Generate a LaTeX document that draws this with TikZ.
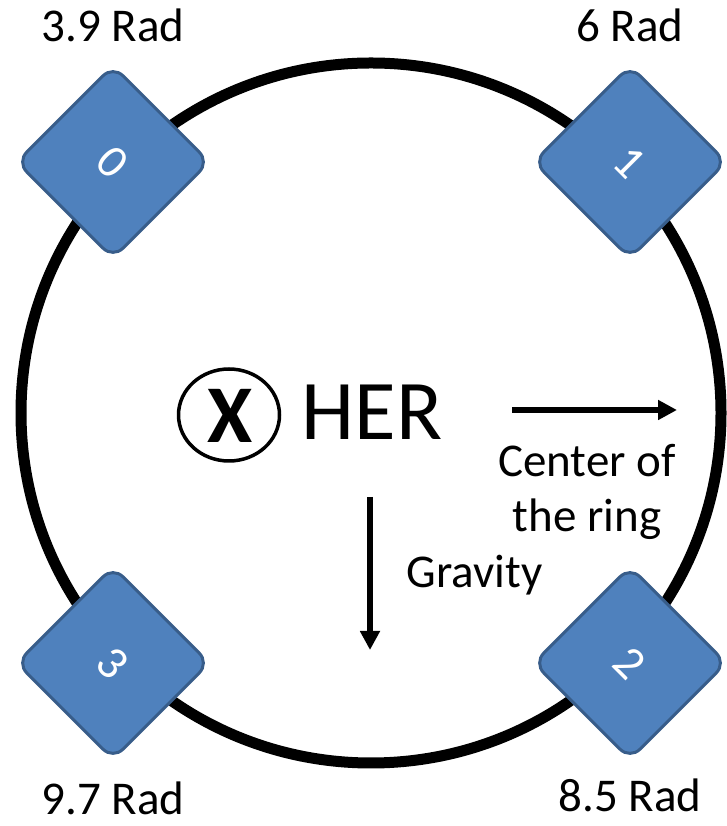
\documentclass[tikz,border=0pt]{standalone}
\usepackage{fontspec}
\setmainfont{Carlito}
\definecolor{chip}{HTML}{4F81BD}
\definecolor{chipedge}{HTML}{385D8A}
\usetikzlibrary{arrows.meta, positioning, shapes.geometric}

\tikzset{
  chipbox/.style={draw=chipedge, fill=chip, line width=3pt, rounded corners=14pt,
    minimum size=136pt, rotate=-45, text=white, font=\fontsize{47}{56}\selectfont},
  radlabel/.style={anchor=base, font=\fontsize{47}{56}\selectfont},
  bigarrow/.style={line width=6pt, -{Triangle[length=19pt,width=19pt]}}
}

\begin{document}
\begin{tikzpicture}[x=1pt, y=1pt]
  \useasboundingbox (0,0) rectangle (727,826);
  % ring
  \draw[line width=11pt] (371,413) circle[radius=350];
  % detectors
  \node[chipbox] (d0) at (113,664) {0};
  \node[chipbox] (d1) at (630,664) {1};
  \node[chipbox] (d2) at (630,163) {2};
  \node[chipbox] (d3) at (113,163) {3};
  \node[radlabel] (r0) at (113,784) {3.9 Rad};
  \node[radlabel] (r1) at (630,784) {6 Rad};
  \node[radlabel] (r2) at (630,14) {8.5 Rad};
  \node[radlabel] (r3) at (113,11) {9.7 Rad};
  % beam
  \node[draw, line width=3.5pt, ellipse, minimum width=101pt, minimum height=92pt, inner sep=0pt] (xo) at (229,411) {};
  \node[anchor=base, font=\fontsize{82}{90}\selectfont\bfseries] (xx) at (230,383) {X};
  \node[anchor=base, font=\fontsize{85}{95}\selectfont] (her) at (372,386) {HER};
  % directions
  \coordinate (c1) at (512,416);
  \coordinate (c2) at (677,416);
  \draw[bigarrow] (c1) -- (c2);
  \node[align=center, font=\fontsize{47}{55}\selectfont] (ctr) at (587,334) {Center of\\the ring};
  \coordinate (g1) at (370,329);
  \coordinate (g2) at (370,176);
  \draw[bigarrow] (g1) -- (g2);
  \node[anchor=base west, font=\fontsize{47}{56}\selectfont] (grav) at (403,238) {Gravity};
\end{tikzpicture}
\end{document}
